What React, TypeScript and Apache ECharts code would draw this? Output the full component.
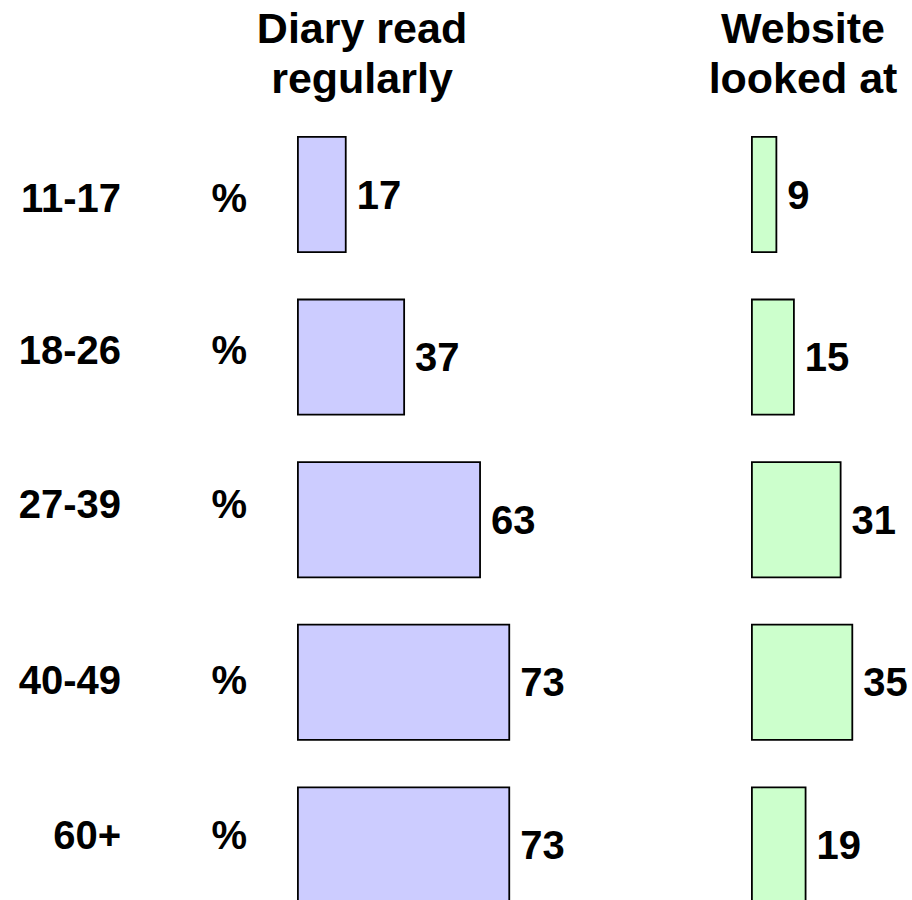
import React, { useEffect, useRef } from "react";
import * as echarts from "echarts";

const categories = ["11-17", "18-26", "27-39", "40-49", "60+"];
const diaryValues = [17, 37, 63, 73, 73];
const websiteValues = [9, 15, 31, 35, 19];
const headers = ["Diary read\nregularly", "Website\nlooked at"];
const unitLabel = "%";
// vertical nudges (px) of the row labels relative to their bars, as in the reference
const labelNudge = [3.5, -7, -16, -2.5, -10];

const FONT = "'Liberation Sans', Arial, sans-serif";

export default function App() {
  const ref = useRef<HTMLDivElement>(null);
  useEffect(() => {
    if (!ref.current) return;
    const chart = echarts.init(ref.current, null, { renderer: "svg" });
    const rich: Record<string, any> = {};
    labelNudge.forEach((s, i) => {
      const padding = s > 0 ? [2 * s, 0, 0, 0] : [0, 0, -2 * s, 0];
      rich["c" + i] = {
        fontSize: 40,
        fontWeight: "bold",
        fontFamily: FONT,
        color: "#000",
        padding,
      };
      rich["p" + i] = {
        fontSize: 40,
        fontWeight: "bold",
        fontFamily: FONT,
        color: "#000",
        width: 126,
        align: "right",
        padding,
      };
    });
    const labelStyle = {
      show: true,
      position: "right" as const,
      distance: 10,
      fontSize: 40,
      fontWeight: "bold" as const,
      fontFamily: FONT,
      color: "#000",
    };
    const headerStyle = {
      fontSize: 43,
      fontWeight: "bold" as const,
      fontFamily: FONT,
      color: "#000",
      lineHeight: 50,
    };
    chart.setOption({
      animation: false,
      backgroundColor: "#fff",
      title: [
        { text: headers[0], left: 357, top: -2, textAlign: "center", textStyle: headerStyle },
        { text: headers[1], left: 798, top: -2, textAlign: "center", textStyle: headerStyle },
      ],
      grid: [
        { left: 297, top: 194.5, width: 292, height: 650.4 },
        { left: 751, top: 194.5, width: 160.6, height: 650.4 },
      ],
      xAxis: [
        { type: "value", gridIndex: 0, min: 0, max: 100, show: false },
        { type: "value", gridIndex: 1, min: 0, max: 55, show: false },
      ],
      yAxis: [
        {
          type: "category",
          gridIndex: 0,
          inverse: true,
          boundaryGap: false,
          data: categories,
          axisLine: { show: false },
          axisTick: { show: false },
          splitLine: { show: false },
          axisLabel: {
            margin: 50,
            align: "right",
            formatter: (v: string, i: number) => `{c${i}|${v}}{p${i}|${unitLabel}}`,
            rich,
          },
        },
        {
          type: "category",
          gridIndex: 1,
          inverse: true,
          boundaryGap: false,
          data: categories,
          show: false,
        },
      ],
      series: [
        {
          type: "bar",
          xAxisIndex: 0,
          yAxisIndex: 0,
          data: diaryValues,
          barWidth: 117,
          clip: false,
          itemStyle: { color: "#ccccff", borderColor: "#000", borderWidth: 1.8 },
          label: labelStyle,
        },
        {
          type: "bar",
          xAxisIndex: 1,
          yAxisIndex: 1,
          data: websiteValues,
          barWidth: 117,
          clip: false,
          itemStyle: { color: "#ccffcc", borderColor: "#000", borderWidth: 1.8 },
          label: labelStyle,
        },
      ],
    });
    return () => chart.dispose();
  }, []);
  return (
    <div
      ref={ref}
      style={{ position: "fixed", left: 0, top: 0, width: 912, height: 900 }}
    />
  );
}
